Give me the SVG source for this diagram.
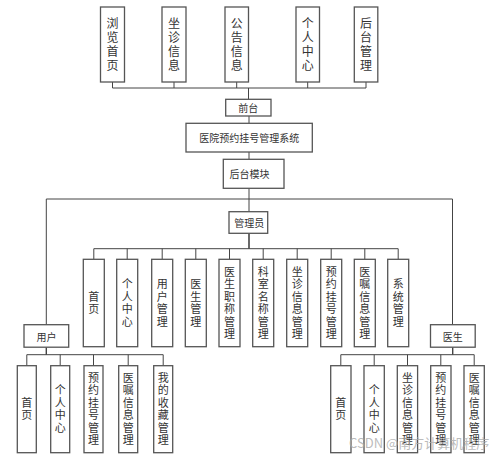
<svg xmlns="http://www.w3.org/2000/svg" width="500" height="458" viewBox="0 0 500 458">
<style>
.box{fill:#fff;stroke:#555;stroke-width:1.3}
.ln{stroke:#444;stroke-width:1;fill:none}
text{font-family:"Noto Sans CJK SC","Noto Sans",sans-serif;fill:#333;text-anchor:middle;dominant-baseline:central}
.t10{font-size:10px}
.v12{font-size:12px;writing-mode:vertical-rl;letter-spacing:2px}
.v11{font-size:11px;writing-mode:vertical-rl;letter-spacing:1.5px}
.wm{font-size:13px;fill:#aaa;fill-opacity:0.8;text-anchor:start;dominant-baseline:auto}
</style>
<rect width="500" height="458" fill="#fff"/>
<g id="connectors">
<path class="ln" d="M112.5 82V88M174 82V88M236.7 82V88M307.7 82V88M366 82V88M112.5 88H366M248.5 88V99.3"/>
<path class="ln" d="M249 116V123.3M249 152V159.3M249 188.3V211.7"/>
<path class="ln" style="stroke-width:1.6" d="M249 233.3V248.7"/>
<path class="ln" d="M46.3 199H452.5M46.3 199V324.7M452.5 199V324.7"/>
<path class="ln" d="M93.8 248.7H398.2M93.8 248.7V259.3M127.2 248.7V259.3M162.2 248.7V259.3M195.8 248.7V259.3M229.5 248.7V259.3M263.2 248.7V259.3M297.2 248.7V259.3M331.2 248.7V259.3M364.8 248.7V259.3M398.2 248.7V259.3"/>
<path class="ln" style="stroke-width:1.4" d="M46.3 347.3V354.7"/>
<path class="ln" d="M26.8 354.7H163.2M26.8 354.7V365.7M60.2 354.7V365.7M93.5 354.7V365.7M128.2 354.7V365.7M163.2 354.7V365.7"/>
<path class="ln" style="stroke-width:1.4" d="M452.7 347.3V354.7"/>
<path class="ln" d="M340.8 354.7H474.2M340.8 354.7V365.7M374.2 354.7V365.7M407.5 354.7V365.7M440.8 354.7V365.7M474.2 354.7V365.7"/>
</g>
<g id="top1"><rect class="box" x="100.5" y="7" width="24" height="75"/><text class="v12" x="112.5" y="45.5">浏览首页</text></g>
<g id="top2"><rect class="box" x="162" y="7" width="24" height="75"/><text class="v12" x="174" y="45.5">坐诊信息</text></g>
<g id="top3"><rect class="box" x="225" y="7" width="23.5" height="75"/><text class="v12" x="236.7" y="45.5">公告信息</text></g>
<g id="top4"><rect class="box" x="296" y="7" width="23.5" height="75"/><text class="v12" x="307.7" y="45.5">个人中心</text></g>
<g id="top5"><rect class="box" x="354.3" y="7" width="23.5" height="75"/><text class="v12" x="366" y="45.5">后台管理</text></g>
<g id="qiantai"><rect class="box" x="225.7" y="99.3" width="45.3" height="16.7"/><text class="t10" x="248.3" y="107.7">前台</text></g>
<g id="system"><rect class="box" x="186" y="123.3" width="126.3" height="28.7"/><text class="t10" x="249.2" y="137.7">医院预约挂号管理系统</text></g>
<g id="houtai"><rect class="box" x="223.3" y="159.3" width="60.7" height="29"/><text class="t10" x="249.5" y="173.8">后台模块</text></g>
<g id="admin"><rect class="box" x="229" y="211.7" width="38.7" height="21.6"/><text class="t10" x="249.3" y="222.5">管理员</text></g>
<g id="a1"><rect class="box" x="83.3" y="259.3" width="21" height="87.4"/><text class="v11" x="93.8" y="303.75">首页</text></g>
<g id="a2"><rect class="box" x="116.7" y="259.3" width="21" height="87.4"/><text class="v11" x="127.2" y="303.75">个人中心</text></g>
<g id="a3"><rect class="box" x="151.7" y="259.3" width="21" height="87.4"/><text class="v11" x="162.2" y="303.75">用户管理</text></g>
<g id="a4"><rect class="box" x="185.3" y="259.3" width="21" height="87.4"/><text class="v11" x="195.8" y="303.75">医生管理</text></g>
<g id="a5"><rect class="box" x="219" y="259.3" width="21" height="87.4"/><text class="v11" x="229.5" y="303.75">医生职称管理</text></g>
<g id="a6"><rect class="box" x="252.7" y="259.3" width="21" height="87.4"/><text class="v11" x="263.2" y="303.75">科室名称管理</text></g>
<g id="a7"><rect class="box" x="286.7" y="259.3" width="21" height="87.4"/><text class="v11" x="297.2" y="303.75">坐诊信息管理</text></g>
<g id="a8"><rect class="box" x="320.7" y="259.3" width="21" height="87.4"/><text class="v11" x="331.2" y="303.75">预约挂号管理</text></g>
<g id="a9"><rect class="box" x="354.3" y="259.3" width="21" height="87.4"/><text class="v11" x="364.8" y="303.75">医嘱信息管理</text></g>
<g id="a10"><rect class="box" x="387.7" y="259.3" width="21" height="87.4"/><text class="v11" x="398.2" y="303.75">系统管理</text></g>
<g id="user"><rect class="box" x="24" y="324.7" width="44.7" height="22.5"/><text class="t10" x="46.5" y="336">用户</text></g>
<g id="doctor"><rect class="box" x="430.5" y="324.7" width="44.7" height="22.5"/><text class="t10" x="452.8" y="336">医生</text></g>
<g id="u1"><rect class="box" x="17.3" y="365.7" width="19" height="87"/><text class="v11" x="26.8" y="409.75">首页</text></g>
<g id="u2"><rect class="box" x="50.7" y="365.7" width="19" height="87"/><text class="v11" x="60.2" y="409.75">个人中心</text></g>
<g id="u3"><rect class="box" x="84" y="365.7" width="19" height="87"/><text class="v11" x="93.5" y="409.75">预约挂号管理</text></g>
<g id="u4"><rect class="box" x="118.7" y="365.7" width="19" height="87"/><text class="v11" x="128.2" y="409.75">医嘱信息管理</text></g>
<g id="u5"><rect class="box" x="153.7" y="365.7" width="19" height="87"/><text class="v11" x="163.2" y="409.75">我的收藏管理</text></g>
<g id="d1"><rect class="box" x="330.7" y="365.7" width="20.3" height="87"/><text class="v11" x="340.8" y="409.75">首页</text></g>
<g id="d2"><rect class="box" x="364" y="365.7" width="20.3" height="87"/><text class="v11" x="374.2" y="409.75">个人中心</text></g>
<g id="d3"><rect class="box" x="397.3" y="365.7" width="20.3" height="87"/><text class="v11" x="407.5" y="409.75">坐诊信息管理</text></g>
<g id="d4"><rect class="box" x="430.7" y="365.7" width="20.3" height="87"/><text class="v11" x="440.8" y="409.75">预约挂号管理</text></g>
<g id="d5"><rect class="box" x="464" y="365.7" width="20.3" height="87"/><text class="v11" x="474.2" y="409.75">医嘱信息管理</text></g>
<text class="wm" x="349" y="448">CSDN @南方计算机程序</text>
</svg>
